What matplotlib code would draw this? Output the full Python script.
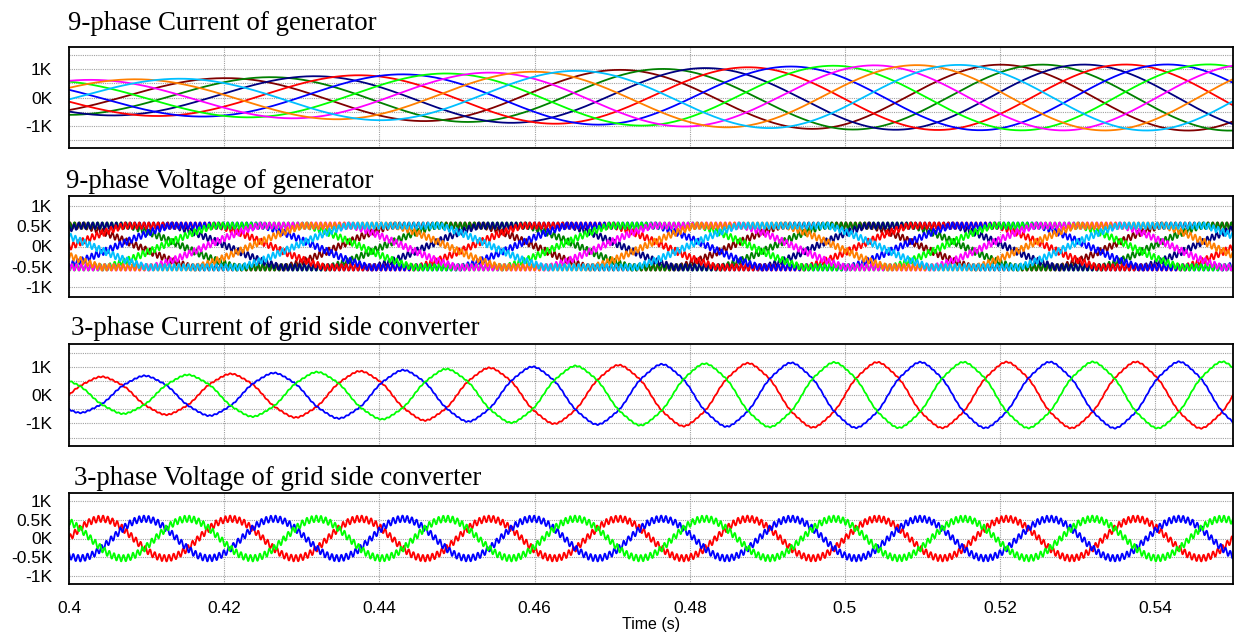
import numpy as np
import matplotlib.pyplot as plt

# time window (s)
t_start, t_end = 0.40, 0.55
xticks = [0.4, 0.42, 0.44, 0.46, 0.48, 0.5, 0.52, 0.54]
xtick_labels = ['0.4', '0.42', '0.44', '0.46', '0.48', '0.5', '0.52', '0.54']

# 9-phase generator, colours in phase order (40 deg apart)
gen_colors = ['#800000', '#008000', '#000080', '#ff0000', '#0000ff',
              '#00ff00', '#ff00ff', '#ff8000', '#00bfff']
gen_f0 = 19.1          # Hz at 0.4 s
gen_df = 12.0          # Hz/s, machine speeding up
gen_peak0 = 0.3786     # cycles, where the first phase current peaks
gen_v_lead = 0.458     # cycles, voltage ahead of current
gen_i_t = [0.40, 0.42, 0.44, 0.46, 0.48, 0.50, 0.52, 0.55]
gen_i_amp = [0.62, 0.69, 0.81, 0.92, 1.04, 1.14, 1.17, 1.18]   # kA
gen_v_amp = 0.52       # kV, flat top level
gen_v_flat = 1.35      # how much the voltage tops are flattened
gen_v_ripple = 0.08

# 3-phase grid side converter
grid_colors = ['#ff0000', '#0000ff', '#00ff00']
grid_f = 60.0
grid_i_t = [0.40, 0.42, 0.44, 0.46, 0.48, 0.50, 0.55]
grid_i_amp = [0.60, 0.72, 0.83, 0.97, 1.07, 1.12, 1.14]
grid_i_ripple = 0.02
grid_v_amp = 0.52
grid_v_ripple = 0.085

ripple_f = 1650.0      # switching ripple, Hz

titles = ['9-phase Current of generator', '9-phase Voltage of generator',
          '3-phase Current of grid side converter', '3-phase Voltage of grid side converter']

t = np.linspace(t_start, t_end, 15001)
tau = t - t_start
theta = gen_f0 * tau + 0.5 * gen_df * tau ** 2      # cycles
i_env = np.interp(t, gen_i_t, gen_i_amp)
g_env = np.interp(t, grid_i_t, grid_i_amp)

W, H = 1236, 633
fig = plt.figure(figsize=(W / 100, H / 100), dpi=100)

# panel boxes in pixels: top, bottom
boxes = [(47, 148), (196, 297), (344, 446), (493, 584)]
title_pos = [(68, 30), (66, 188), (71, 335), (74, 485)]
ylims = [1.8, 1.26, 1.8, 1.2]

axes = []
for (top, bot), (tx, ty), title in zip(boxes, title_pos, titles):
    ax = fig.add_axes([69 / W, 1 - bot / H, (1233 - 69) / W, (bot - top) / H])
    axes.append(ax)
    fig.text(tx / W, 1 - ty / H, title, family='Liberation Serif', fontsize=19.3, va='baseline')

# 9-phase current
for k, c in enumerate(gen_colors):
    ph = theta - gen_peak0 - k / 9
    axes[0].plot(t, i_env * np.cos(2 * np.pi * ph), color=c, lw=1.3)

# 9-phase voltage
for k, c in enumerate(gen_colors):
    ph = theta - gen_peak0 - k / 9 + gen_v_lead
    v = np.clip(gen_v_flat * np.cos(2 * np.pi * ph), -1, 1) * gen_v_amp
    v += gen_v_ripple * np.sin(2 * np.pi * (ripple_f * tau + k / 9))
    axes[1].plot(t, v, color=c, lw=1.3)

# grid current and voltage
for k, c in enumerate(grid_colors):
    ph = grid_f * tau - k / 3
    i = g_env * (np.sin(2 * np.pi * ph) + 0.03 * np.sin(2 * np.pi * 5 * ph))
    i += grid_i_ripple * np.sin(2 * np.pi * (ripple_f * tau + k / 3))
    axes[2].plot(t, i, color=c, lw=1.3)
    v = grid_v_amp * np.sin(2 * np.pi * ph)
    v += grid_v_ripple * np.sin(2 * np.pi * (ripple_f * tau + k / 3))
    axes[3].plot(t, v, color=c, lw=1.3)

for n, ax in enumerate(axes):
    ax.set_xlim(t_start, t_end)
    ax.set_ylim(-ylims[n], ylims[n])
    ax.set_xticks(xticks)
    if n in (0, 2):
        ax.set_yticks([-1, 0, 1])
        ax.set_yticklabels(['-1K', '0K', '1K'])
        ax.set_yticks([-1.5, -0.5, 0.5, 1.5], minor=True)
    else:
        ax.set_yticks([-1, -0.5, 0, 0.5, 1])
        ax.set_yticklabels(['-1K', '-0.5K', '0K', '0.5K', '1K'])
    ax.grid(True, which='both', color='#a0a0a0', lw=0.8, linestyle=(0, (1, 1)))
    ax.set_axisbelow(True)
    ax.tick_params(which='both', length=0, labelsize=12.5, pad=12)
    for s in ax.spines.values():
        s.set_color('black')
        s.set_linewidth(1.3)
    if n < 3:
        ax.set_xticklabels([])
    else:
        ax.set_xticklabels(xtick_labels)
        ax.tick_params(axis='x', pad=12)
    for lab in ax.get_xticklabels() + ax.get_yticklabels():
        lab.set_family('Liberation Sans')

axes[3].set_xlabel('Time (s)', family='Liberation Sans', fontsize=11.5, labelpad=1)

fig.savefig('out.png', dpi=100)
